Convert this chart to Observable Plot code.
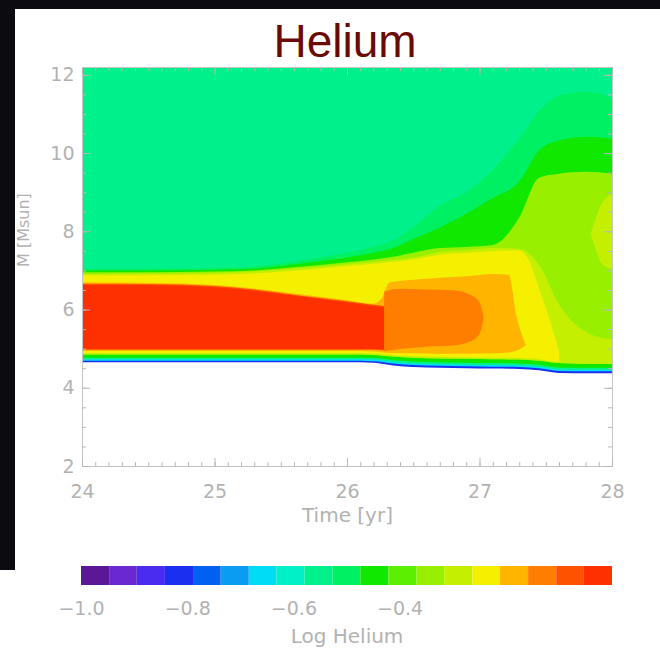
<!DOCTYPE html>
<html><head><meta charset="utf-8">
<script src="https://cdn.jsdelivr.net/npm/d3@7"></script>
<script src="https://cdn.jsdelivr.net/npm/@observablehq/plot@0.6"></script>
<style>
html,body{margin:0;padding:0;background:#fff;}
#page{position:relative;width:660px;height:663px;overflow:hidden;background:#fff;}
#main{position:absolute;left:0;top:0;}
#bar{position:absolute;left:0;top:550px;}
#title{position:absolute;left:0;top:18px;width:690px;text-align:center;font:46px/46px "Liberation Sans",Arial,sans-serif;color:#6b0a02;}
.blk{position:absolute;background:#0c0c10;}
</style></head><body>
<div id="page">
  <div id="main"></div>
  <div id="bar"></div>
  <div class="blk" style="left:0;top:0;width:660px;height:9px"></div>
  <div class="blk" style="left:0;top:0;width:15px;height:570px"></div>
  <div id="title">Helium</div>
</div>
<script>
// ---- colour levels (Log Helium) ----
const levels = [-1.000,-0.947,-0.895,-0.842,-0.789,-0.737,-0.684,-0.632,-0.579,-0.526,-0.474,-0.421,-0.368,-0.316,-0.263,-0.211,-0.158,-0.105,-0.053,0.000];
const palette = ["#5b1896","#6a28d2","#4a2cf0","#1a2ff0","#0060f0","#0a9cf0","#00dcf4","#00f0c8","#00f08c","#00f064","#10e800","#5cf000","#98f000","#c4f000","#f4f000","#ffb400","#ff7e00","#ff5200","#ff3000"];
const barTicks = [-1.0,-0.8,-0.6,-0.4];

// ---- axes ----
const timeTicks = [24,25,26,27,28];
const massTicks = [2,4,6,8,10,12];
const massTop = 12.2;

// ---- region boundaries (M in Msun vs time in yr) ----
const tGrid      = [24, 24.5, 25, 25.3, 25.6, 26, 26.2, 26.35, 26.5, 26.7, 26.9, 27.1, 27.3, 27.45, 27.6, 27.8, 28];
const edgeBlue   = [4.65,4.65,4.65,4.65,4.65,4.65,4.64,4.57,4.53,4.51,4.50,4.49,4.48,4.45,4.38,4.37,4.37];
const edgeTeal   = [4.69,4.69,4.69,4.69,4.69,4.69,4.68,4.62,4.58,4.56,4.55,4.54,4.53,4.50,4.43,4.42,4.42];
const edgeAqua   = [4.73,4.73,4.73,4.73,4.73,4.73,4.72,4.66,4.62,4.60,4.59,4.58,4.57,4.54,4.47,4.46,4.46];
const edgeGreen  = [4.77,4.77,4.77,4.77,4.77,4.77,4.76,4.71,4.67,4.65,4.64,4.63,4.62,4.59,4.52,4.51,4.51];
const edgeLime   = [4.85,4.85,4.85,4.85,4.85,4.85,4.84,4.80,4.77,4.75,4.74,4.73,4.72,4.69,4.63,4.61,4.61];
const aquaBottom = [7.04,7.04,7.06,7.10,7.23,7.45,7.60,7.77,8.10,8.65,9.00,9.57,10.37,11.07,11.47,11.57,11.42];
const greenTop   = [7.00,7.00,7.02,7.05,7.16,7.33,7.45,7.57,7.80,8.10,8.45,8.85,9.27,10.07,10.32,10.42,10.37];
const limeTop    = [6.95,6.95,6.97,7.00,7.08,7.21,7.28,7.35,7.45,7.57,7.60,7.65,8.35,9.37,9.47,9.52,9.47];
const paleTop    = [6.91,6.92,6.94,6.97,7.04,7.16,7.22,7.27,7.33,7.47,7.52,7.57,7.55,7.14,6.13,5.43,5.23];

const patchT  = [27.84, 27.93, 28];
const patchLo = [7.95, 7.15, 7.04];
const patchHi = [7.95, 8.75, 8.95];

const yellowT  = [24, 25, 25.3, 25.6, 26, 26.2, 26.35, 26.5, 26.7, 26.9, 27.1, 27.3, 27.38, 27.45, 27.53, 27.6];
const yellowHi = [6.87,6.89,6.92,6.99,7.11,7.17,7.22,7.28,7.40,7.45,7.49,7.51,7.20,6.53,5.73,4.93];
const yellowLo = [4.89,4.89,4.89,4.89,4.89,4.88,4.84,4.81,4.79,4.78,4.77,4.76,4.75,4.73,4.68,4.67];

const amberT  = [24, 24.5, 25, 25.3, 25.6, 26, 26.2, 26.26, 26.32, 26.5, 26.7, 26.9, 27.1, 27.22, 27.28, 27.35];
const amberHi = [6.69,6.68,6.63,6.54,6.41,6.24,6.15,6.28,6.69,6.76,6.81,6.85,6.91,6.89,5.83,5.08];
const amberLo = [4.94,4.94,4.94,4.94,4.94,4.94,4.93,4.91,4.89,4.88,4.87,4.87,4.88,4.90,4.95,5.08];

const redT      = [24, 24.5, 25, 25.3, 25.6, 26, 26.2, 26.3];
const redHi     = [6.63,6.62,6.57,6.48,6.35,6.18,6.09,6.05];
const redLo     = [4.99,4.99,4.99,4.99,4.99,4.99,4.99,4.97];
const scarletHi = [6.66,6.65,6.60,6.51,6.38,6.21,6.12,6.08];
const scarletLo = [4.97,4.97,4.97,4.97,4.97,4.97,4.97,4.95];

const orangeT  = [26.28, 26.4, 26.6, 26.8, 26.93, 27.0, 27.03];
const orangeHi = [6.46,6.53,6.51,6.49,6.38,6.18,5.83];
const orangeLo = [4.94,4.99,5.05,5.08,5.18,5.38,5.73];

// Log Helium value of each filled region
const regionValues = {blue:-0.816, teal:-0.658, aqua:-0.553, mint:-0.500, green:-0.447, lime:-0.342, pale:-0.289, yellow:-0.237, amber:-0.184, orange:-0.132, scarlet:-0.079, red:-0.026};

function band(t, lo, hi, v) {
  return t.map((x, i) => ({t: x, lo: Array.isArray(lo) ? lo[i] : lo, hi: Array.isArray(hi) ? hi[i] : hi, v}));
}
const layers = [
  band(tGrid, edgeBlue, massTop, regionValues.blue),
  band(tGrid, edgeTeal, massTop, regionValues.teal),
  band(tGrid, edgeAqua, massTop, regionValues.aqua),
  band(tGrid, edgeGreen, aquaBottom, regionValues.mint),
  band(tGrid, edgeGreen, greenTop, regionValues.green),
  band(tGrid, edgeLime, limeTop, regionValues.lime),
  band(tGrid, edgeLime, paleTop, regionValues.pale),
  band(patchT, patchLo, patchHi, regionValues.pale),
  band(yellowT, yellowLo, yellowHi, regionValues.yellow),
  band(amberT, amberLo, amberHi, regionValues.amber),
  band(redT, scarletLo, scarletHi, regionValues.scarlet),
  band(redT, redLo, redHi, regionValues.red),
  band(orangeT, orangeLo, orangeHi, regionValues.orange)
];

const colorScale = {type: "threshold", domain: levels.slice(1, -1), range: palette};
const gray = "#b2b2b2";
const W = 660, H = 530, mT = 67, mB = 64, mL = 82, mR = 48;
const frameH = H - mT - mB, frameW = W - mL - mR;
const minorT = d3.range(24, 28.0001, 0.1);
const minorM = d3.range(2, 12.0001, 0.5);

const main = Plot.plot({
  width: W, height: H, marginTop: mT, marginBottom: mB, marginLeft: mL, marginRight: mR,
  style: {background: "transparent", fontFamily: "DejaVu Sans, sans-serif", fontSize: "19px", color: gray},
  x: {domain: [24, 28]},
  y: {domain: [2, massTop]},
  color: colorScale,
  marks: [
    ...layers.map(d => Plot.areaY(d, {x: "t", y1: "lo", y2: "hi", fill: "v", curve: "monotone-x"})),
    Plot.frame({stroke: "#c4c4c4"}),
    Plot.tickX(minorT, {x: d => d, insetTop: frameH - 4, stroke: "#b8b8b8"}),
    Plot.tickX(minorT, {x: d => d, insetBottom: frameH - 4, stroke: "#b8b8b8"}),
    Plot.tickX(timeTicks, {x: d => d, insetTop: frameH - 8, stroke: "#b8b8b8"}),
    Plot.tickX(timeTicks, {x: d => d, insetBottom: frameH - 8, stroke: "#b8b8b8"}),
    Plot.tickY(minorM, {y: d => d, insetRight: frameW - 4, stroke: "#b8b8b8"}),
    Plot.tickY(minorM, {y: d => d, insetLeft: frameW - 4, stroke: "#b8b8b8"}),
    Plot.tickY(massTicks, {y: d => d, insetRight: frameW - 8, stroke: "#b8b8b8"}),
    Plot.tickY(massTicks, {y: d => d, insetLeft: frameW - 8, stroke: "#b8b8b8"}),
    Plot.axisX({ticks: timeTicks, tickSize: 0, tickPadding: 18, tickFormat: d => String(d), label: null, fill: gray}),
    Plot.axisY({ticks: massTicks, tickSize: 0, tickPadding: 8, tickFormat: d => String(d), label: null, fill: gray}),
    Plot.text(["Time [yr]"], {text: d => d, frameAnchor: "bottom", dy: 49, lineAnchor: "middle", fontSize: 20, fill: gray}),
    Plot.text(["M [Msun]"], {text: d => d, frameAnchor: "left", dx: -59, rotate: -90, lineAnchor: "middle", fontSize: 16, fill: gray})
  ]
});
document.getElementById("main").appendChild(main);

const barBins = levels.slice(0, -1).map((lo, i) => ({lo, hi: levels[i + 1]}));
const bar = Plot.plot({
  width: W, height: 113, marginTop: 16, marginBottom: 78, marginLeft: 81, marginRight: 48,
  style: {background: "transparent", fontFamily: "DejaVu Sans, sans-serif", fontSize: "19px", color: gray},
  x: {domain: [-1, 0]},
  y: {domain: [0, 1], axis: null},
  color: colorScale,
  marks: [
    Plot.rect(barBins, {x1: "lo", x2: "hi", y1: 0, y2: 1, fill: "lo"}),
    Plot.axisX({ticks: barTicks, tickSize: 0, tickPadding: 16, tickFormat: d3.format(".1f"), label: null, fill: gray}),
    Plot.text(["Log Helium"], {text: d => d, frameAnchor: "bottom", dy: 51, lineAnchor: "middle", fontSize: 20, fill: gray})
  ]
});
document.getElementById("bar").appendChild(bar);
</script>
</body></html>
